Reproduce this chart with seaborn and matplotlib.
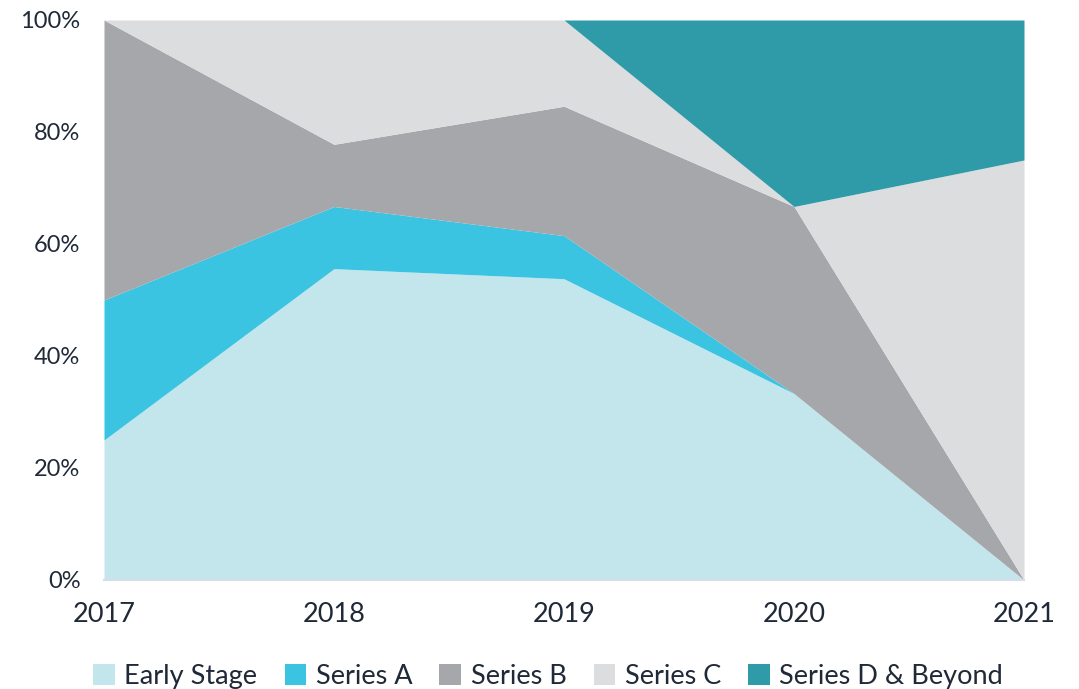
import matplotlib
matplotlib.use("Agg")
import matplotlib.pyplot as plt
import seaborn as sns
import numpy as np

years = [2017, 2018, 2019, 2020, 2021]
stages = ["Early Stage", "Series A", "Series B", "Series C", "Series D & Beyond"]
early_stage = [25.0, 55.6, 53.8, 33.3, 0.0]
series_a = [25.0, 11.1, 7.7, 0.0, 0.0]
series_b = [50.0, 11.1, 23.1, 33.4, 0.0]
series_c = [0.0, 22.2, 15.4, 0.0, 75.0]
series_d = [0.0, 0.0, 0.0, 33.3, 25.0]
y_ticks = [0, 20, 40, 60, 80, 100]

colors = ["#c2e6ec", "#3bc4e1", "#a5a7ab", "#dcdddf", "#2f9aa8"]
text_color = "#1f2937"
axis_color = "#d6dde8"

sns.set_theme(style="white")
plt.rcParams["font.family"] = ["Lato", "DejaVu Sans"]

fig = plt.figure(figsize=(10.79, 6.89), dpi=100)
ax = fig.add_axes([104 / 1079, 1 - 580 / 689, 920 / 1079, 560 / 689])

ax.stackplot(years, early_stage, series_a, series_b, series_c, series_d,
             colors=colors, labels=stages, linewidth=0)

ax.set_xlim(years[0], years[-1])
ax.set_ylim(0, 100)
ax.set_xticks(years)
ax.set_xticklabels([str(y) for y in years])
ax.set_yticks(y_ticks)
ax.set_yticklabels([f"{v}%" for v in y_ticks])

for side in ["top", "right", "left"]:
    ax.spines[side].set_visible(False)
ax.spines["bottom"].set_color(axis_color)
ax.spines["bottom"].set_linewidth(1.5)
ax.tick_params(axis="x", colors=axis_color, length=8, width=1.5, direction="out",
               labelsize=19.5, labelcolor=text_color, pad=8)
ax.tick_params(axis="y", length=0, labelsize=17, labelcolor=text_color, pad=17)

handles, labels = ax.get_legend_handles_labels()
fig.legend(handles, labels, loc="lower center", ncol=5, frameon=False,
           bbox_to_anchor=(0.508, -0.035), fontsize=19.5, labelcolor=text_color,
           handlelength=0.8, handleheight=0.8, handletextpad=0.35, columnspacing=1.0)

fig.savefig("out.png", dpi=100)
